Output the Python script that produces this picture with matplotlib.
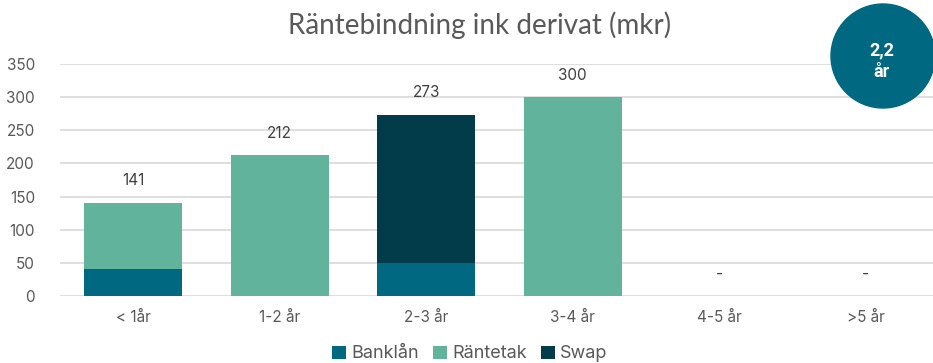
import matplotlib
matplotlib.use("Agg")
import matplotlib.pyplot as plt
import numpy as np
from matplotlib.patches import Circle

# data
categories = ["< 1år", "1-2 år", "2-3 år", "3-4 år", "4-5 år", ">5 år"]
banklan = [40, 0, 50, 0, 0, 0]
rantetak = [101, 212, 0, 300, 0, 0]
swap = [0, 0, 223, 0, 0, 0]
totals = [141, 212, 273, 300, 0, 0]
yticks = [0, 50, 100, 150, 200, 250, 300, 350]

C_BANK = "#006880"
C_RANT = "#62b39c"
C_SWAP = "#023c4a"
GREY = "#595959"
GRID = "#d9d9d9"

plt.rcParams["font.family"] = ["Inter", "DejaVu Sans"]

fig = plt.figure(figsize=(9.33, 3.63), dpi=100)
ax = fig.add_axes([60 / 933, 1 - 296 / 363, 1 - 60 / 933, (296 - 64) / 363])

x = np.arange(len(categories))
w = 0.67
b = np.array(banklan)
r = np.array(rantetak)
s = np.array(swap)
ax.bar(x, b, w, color=C_BANK, label="Banklån", zorder=3)
ax.bar(x, r, w, bottom=b, color=C_RANT, label="Räntetak", zorder=3)
ax.bar(x, s, w, bottom=b + r, color=C_SWAP, label="Swap", zorder=3)

for xi, t in zip(x, totals):
    if t > 0:
        ax.text(xi, t + 22, f"{t}", ha="center", va="bottom", fontsize=11, color="#404040")
    else:
        ax.text(xi, 22, "-", ha="center", va="bottom", fontsize=11, color="#404040")

ax.set_xlim(-0.5, 5.46)
ax.set_ylim(0, 350)
ax.set_yticks(yticks)
ax.set_xticks(x)
ax.set_xticklabels(categories)
ax.tick_params(axis="both", length=0, labelsize=11, colors=GREY)
ax.tick_params(axis="x", pad=10)
ax.tick_params(axis="y", pad=18)
ax.grid(axis="y", color=GRID, linewidth=1.2, zorder=0)
for sp in ["top", "right", "left", "bottom"]:
    ax.spines[sp].set_visible(False)

fig.text(480 / 933, 1 - 25 / 363, "Räntebindning ink derivat (mkr)", ha="center", va="center",
         fontsize=20, color=GREY, family=["Lato", "DejaVu Sans"])

fig.legend(loc="center", bbox_to_anchor=(470 / 933, 1 - 354 / 363), ncol=3, frameon=False,
           fontsize=13, labelcolor=GREY, handlelength=0.75, handleheight=0.75,
           handletextpad=0.3, columnspacing=0.8)

# circle badge
circ = Circle((883, 363 - 56), 52, transform=None, color=C_BANK, zorder=10)
fig.patches.append(circ)
fig.text(882 / 933, 1 - 50 / 363, "2,2", ha="center", va="center", fontsize=13,
         color="white", weight="bold", family=["Roboto", "DejaVu Sans"], zorder=11)
fig.text(882 / 933, 1 - 72 / 363, "år", ha="center", va="center", fontsize=13,
         color="white", weight="bold", family=["Roboto", "DejaVu Sans"], zorder=11)

fig.savefig("out.png", dpi=100)
